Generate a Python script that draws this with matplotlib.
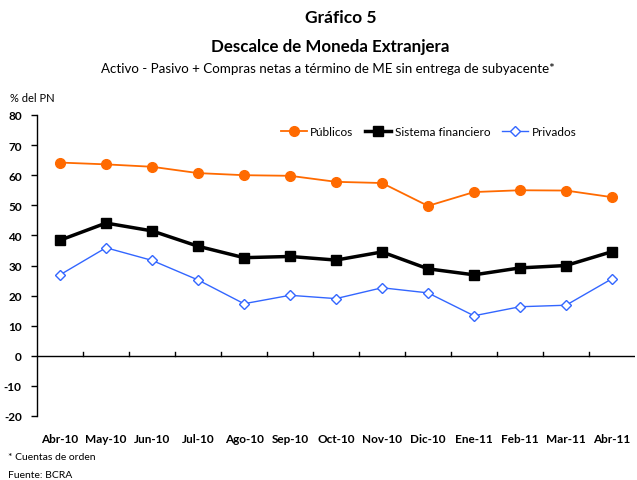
#!/usr/bin/env python3
"""Descalce de moneda extranjera: públicos, sistema financiero y privados."""

import matplotlib

matplotlib.use("Agg")
import matplotlib.pyplot as plt

MONTHS = ["Abr-10", "May-10", "Jun-10", "Jul-10", "Ago-10", "Sep-10", "Oct-10",
          "Nov-10", "Dic-10", "Ene-11", "Feb-11", "Mar-11", "Abr-11"]
PUBLICOS = [64.2, 63.6, 62.8, 60.7, 60.0, 59.8, 57.8, 57.4, 49.8, 54.4, 55.0, 54.9, 52.7]
SISTEMA = [38.4, 44.1, 41.5, 36.4, 32.6, 33.0, 31.8, 34.5, 28.9, 26.9, 29.2, 30.0, 34.6]
PRIVADOS = [26.9, 35.9, 31.7, 25.2, 17.3, 20.1, 19.0, 22.6, 20.9, 13.3, 16.3, 16.8, 25.6]
Y_TICKS = [-20, -10, 0, 10, 20, 30, 40, 50, 60, 70, 80]

FONT = "Lato"


def main() -> None:
    plt.rcParams["font.family"] = [FONT, "DejaVu Sans"]
    fig = plt.figure(figsize=(6.37, 4.81), dpi=100)
    ax = fig.add_axes([37 / 637, 64 / 481, 598 / 637, 301 / 481])

    x = list(range(len(MONTHS)))
    ax.plot(x, PUBLICOS, color="#ff6a00", lw=1.3, marker="o", ms=7,
            mec="#ff6a00", mfc="#ff6a00", label="Públicos", zorder=3)
    ax.plot(x, SISTEMA, color="black", lw=2.5, marker="s", ms=7.5,
            mec="black", mfc="black", label="Sistema financiero", zorder=3)
    ax.plot(x, PRIVADOS, color="#3366ff", lw=1.0, marker="D", ms=5.5,
            mec="#3366ff", mfc="white", mew=1.0, label="Privados", zorder=4)

    ax.set_xlim(-0.5, len(MONTHS) - 0.5)
    ax.set_ylim(-20, 80)
    ax.set_yticks(Y_TICKS)
    ax.set_yticklabels([str(v) for v in Y_TICKS], fontweight="bold", fontsize=8.5)
    ax.tick_params(axis="y", direction="out", length=4, width=1, pad=7)

    for side in ("top", "right", "bottom"):
        ax.spines[side].set_visible(False)
    ax.spines["left"].set_linewidth(1)

    # zero line with ticks between months, pointing up
    ax.axhline(0, color="black", lw=1, zorder=2)
    for b in range(1, len(MONTHS)):
        ax.plot([b - 0.5, b - 0.5], [0, 1.2], color="black", lw=1, zorder=2)

    ax.set_xticks(x)
    ax.set_xticklabels(MONTHS, fontweight="bold", fontsize=8.5)
    ax.tick_params(axis="x", length=0, pad=12)

    ax.legend(loc="upper center", bbox_to_anchor=(0.655, 0.998), ncol=3,
              frameon=False, fontsize=8.5, handlelength=2.2, columnspacing=1.0,
              handletextpad=0.3)

    fig.text(0.535, 0.962, "Gráfico 5", ha="center", va="center",
             fontweight="bold", fontsize=12.5)
    fig.text(0.519, 0.902, "Descalce de Moneda Extranjera", ha="center",
             va="center", fontweight="bold", fontsize=12.2)
    fig.text(0.515, 0.857,
             "Activo - Pasivo + Compras netas a término de ME sin entrega de subyacente*",
             ha="center", va="center", fontsize=9.6)
    fig.text(10 / 637, 1 - 98 / 481, "% del PN", ha="left", va="center", fontsize=8)
    fig.text(8 / 637, 1 - 458 / 481, "* Cuentas de orden", ha="left", va="center",
             fontsize=7.5)
    fig.text(8 / 637, 1 - 476 / 481, "Fuente: BCRA", ha="left", va="center",
             fontsize=7.5)

    fig.savefig("out.png", dpi=100)
    plt.close(fig)


if __name__ == "__main__":
    main()
